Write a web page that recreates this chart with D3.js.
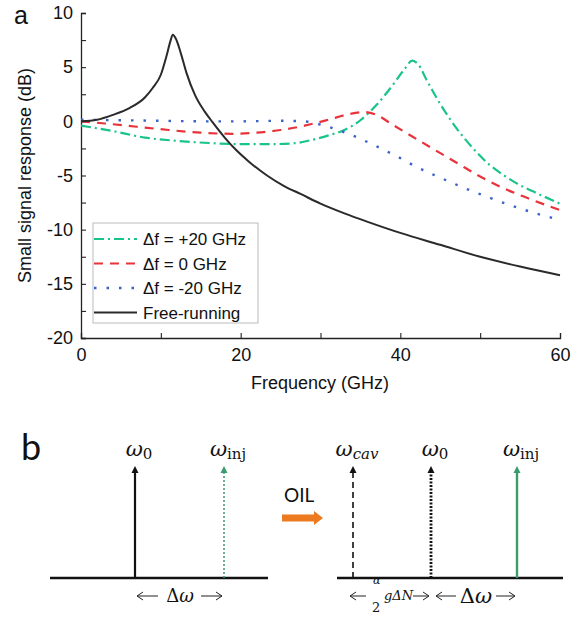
<!DOCTYPE html>
<html>
<head>
<meta charset="utf-8">
<script src="https://cdn.jsdelivr.net/npm/d3@7"></script>
<style>
  body { margin: 0; background: #fff; }
  svg { display: block; font-family: "Liberation Sans", Arial, sans-serif; }
</style>
</head>
<body>
<svg id="fig" width="585" height="617"></svg>
<script>
// frequency (GHz), response (dB)
const freeRunning = [[0,0],[2,0.15],[4,0.6],[6,1.2],[8,2.2],[9,3.1],[10,4.3],[10.7,6.0],[11.2,7.4],[11.5,8.0],
  [11.9,7.6],[12.5,6.3],[13.2,4.5],[14.3,2.4],[15.5,0.9],[16.5,-0.1],[18,-1.5],[19.5,-2.7],[21,-3.7],[23.3,-5.0],
  [25.5,-6.0],[27.5,-6.7],[30,-7.6],[33,-8.5],[36,-9.3],[40,-10.3],[45,-11.4],[50,-12.5],[55,-13.4],[60,-14.2]];
const plus20 = [[0,-0.4],[4,-0.9],[8,-1.5],[12,-1.8],[16,-2.0],[20,-2.1],[24,-2.1],[27,-2.0],[29,-1.7],[31,-1.3],
  [33,-0.8],[35,0.1],[37,1.5],[39,3.3],[40.5,4.8],[41.5,5.6],[42.3,5.2],[43.3,3.8],[45,1.6],[47,-0.6],[49,-2.4],
  [51,-3.9],[53,-5.0],[55,-5.9],[57,-6.6],[60,-7.6]];
const zero = [[0,0],[3,-0.2],[7,-0.5],[11,-0.8],[15,-1.05],[19,-1.15],[22,-1.05],[25,-0.8],[28,-0.4],[31,0.15],
  [33.5,0.65],[35.5,0.85],[37,0.6],[39,-0.3],[41.5,-1.4],[44,-2.5],[47,-3.8],[50,-5.1],[53,-6.2],[56,-7.1],[60,-8.2]];
const minus20 = [[0,0.15],[5,0.1],[10,0.05],[15,0],[20,0],[25,0.05],[28,0],[30,-0.3],[32,-0.75],[34,-1.3],[36,-1.95],
  [38,-2.65],[40,-3.4],[42,-4.2],[45,-5.2],[48,-6.15],[51,-7.0],[54,-7.8],[57,-8.5],[60,-9.1]];

const seriesNames = ["\u0394f = +20 GHz", "\u0394f = 0 GHz", "\u0394f = -20 GHz", "Free-running"];
const xTicks = [0, 20, 40, 60];
const yTicks = [10, 5, 0, -5, -10, -15, -20];

const svg = d3.select('#fig');

const x = d3.scaleLinear().domain([0, 60]).range([81, 560]);
const y = d3.scaleLinear().domain([-20, 10]).range([338, 13]);

const styles = [
  { data: plus20, color: '#19c38c', dash: '10,4,2,4', w: 2.2 },
  { data: zero, color: '#e8333a', dash: '9,7', w: 2.2 },
  { data: minus20, color: '#3b62c9', dash: '2.5,10', w: 2.4 },
  { data: freeRunning, color: '#2a2a2a', dash: null, w: 2 }
];

const line = d3.line()
  .x(d => x(d[0]))
  .y(d => y(d[1]))
  .curve(d3.curveMonotoneX);

// axes, ticks inward
const xAxis = svg.append('g')
  .attr('transform', `translate(0,${y(-20)})`)
  .call(d3.axisBottom(x).tickValues(d3.range(0, 61, 10)).tickSize(-5).tickFormat(d => xTicks.includes(d) ? d : ''));
const yAxis = svg.append('g')
  .attr('transform', `translate(${x(0)},0)`)
  .call(d3.axisLeft(y).tickValues(d3.range(-20, 10.1, 2.5)).tickSize(-5).tickFormat(d => yTicks.includes(d) ? d : ''));

[xAxis, yAxis].forEach(g => {
  g.select('.domain').attr('stroke', '#222').attr('stroke-width', 1.3);
  g.selectAll('.tick line').attr('stroke', '#222').attr('stroke-width', 1.1);
  g.selectAll('.tick text').attr('font-size', 18).attr('fill', '#111')
    .attr('font-family', '"Liberation Sans", Arial, sans-serif');
});
xAxis.selectAll('.tick text').attr('dy', '1.05em').attr('y', 4);
yAxis.selectAll('.tick text').attr('x', -8);

svg.append('text')
  .attr('x', 320).attr('y', 389)
  .attr('text-anchor', 'middle').attr('font-size', 18).attr('fill', '#111')
  .text('Frequency (GHz)');
svg.append('text')
  .attr('transform', `translate(31,${(y(10) + y(-20)) / 2}) rotate(-90)`)
  .attr('text-anchor', 'middle').attr('font-size', 18).attr('fill', '#111')
  .text('Small signal response (dB)');

styles.forEach(s => {
  svg.append('path')
    .datum(s.data)
    .attr('fill', 'none')
    .attr('stroke', s.color)
    .attr('stroke-width', s.w)
    .attr('stroke-dasharray', s.dash)
    .attr('d', line);
});

// legend
const leg = svg.append('g');
leg.append('rect')
  .attr('x', 93).attr('y', 223).attr('width', 165).attr('height', 100)
  .attr('fill', '#fff').attr('stroke', '#bbb').attr('stroke-width', 1);
styles.forEach((s, i) => {
  const yy = 239 + i * 24.5;
  leg.append('line')
    .attr('x1', 94).attr('x2', 137).attr('y1', yy).attr('y2', yy)
    .attr('stroke', s.color).attr('stroke-width', s.w).attr('stroke-dasharray', s.dash);
  leg.append('text')
    .attr('x', 143).attr('y', yy + 6)
    .attr('font-size', 17).attr('fill', '#111')
    .text(seriesNames[i]);
});

svg.append('text').attr('x', 14).attr('y', 23.5)
  .attr('font-family', '"Liberation Sans", Arial, sans-serif').attr('font-size', 25).attr('fill', '#111').text('a');

// ---- panel b ----
svg.append('text').attr('x', 21).attr('y', 460)
  .attr('font-family', 'Lato, "Open Sans", sans-serif').attr('font-size', 36).attr('fill', '#111').text('b');

const green = '#3a9b6c';
const baseY = 578, topY = 466;
const serif = '"DejaVu Serif", "Liberation Serif", serif';

function arrow(xp, color, dash, w) {
  svg.append('line')
    .attr('x1', xp).attr('x2', xp).attr('y1', baseY).attr('y2', topY + 6)
    .attr('stroke', color).attr('stroke-width', w).attr('stroke-dasharray', dash);
  svg.append('path')
    .attr('d', `M${xp - 3.5},${topY + 7} L${xp},${topY} L${xp + 3.5},${topY + 7} Z`)
    .attr('fill', color);
}

function omega(xp, sub, subItalic) {
  const t = svg.append('text')
    .attr('x', xp).attr('y', 456)
    .attr('text-anchor', 'middle')
    .attr('font-family', serif).attr('fill', '#111');
  t.append('tspan').attr('font-size', 21).attr('font-style', 'italic').text('\u03c9');
  t.append('tspan').attr('font-size', 15).attr('dy', 3)
    .attr('font-style', subItalic ? 'italic' : 'normal').text(sub);
}

const spikes = [
  { x: 135, color: '#111', dash: null, w: 2.2, sub: '0', it: false },
  { x: 224, color: green, dash: '2,2', w: 1.5, sub: 'inj', it: false },
  { x: 353, color: '#111', dash: '6,4', w: 1.6, sub: 'cav', it: true },
  { x: 431, color: '#111', dash: '2,1.5', w: 2.8, sub: '0', it: false },
  { x: 517, color: green, dash: null, w: 2.4, sub: 'inj', it: false }
];

[[50, 268], [337, 563]].forEach(([a, b]) => {
  svg.append('line').attr('x1', a).attr('x2', b).attr('y1', baseY).attr('y2', baseY)
    .attr('stroke', '#111').attr('stroke-width', 2.5);
});
spikes.forEach(s => {
  arrow(s.x, s.color, s.dash, s.w);
  omega(s.x + 4, s.sub, s.it);
});

// bracket arrows under the spikes
function hArrow(x1, x2, dir) {
  svg.append('line').attr('x1', x1).attr('x2', x2).attr('y1', 596).attr('y2', 596)
    .attr('stroke', '#222').attr('stroke-width', 1);
  const tip = dir < 0 ? x1 : x2;
  svg.append('path')
    .attr('d', `M${tip - dir * 6},${592} L${tip},${596} L${tip - dir * 6},${600}`)
    .attr('fill', 'none').attr('stroke', '#222').attr('stroke-width', 1);
}
hArrow(137, 158, -1);
hArrow(201, 222, 1);
svg.append('text').attr('x', 180).attr('y', 602).attr('text-anchor', 'middle')
  .attr('font-family', serif).attr('font-size', 18).attr('fill', '#111')
  .html('\u0394<tspan font-style="italic">\u03c9</tspan>');

hArrow(350, 366, -1);
svg.append('text').attr('x', 373).attr('y', 584).attr('font-family', serif).attr('font-style', 'italic')
  .attr('font-size', 11).attr('fill', '#111').text('\u03b1');
svg.append('text').attr('x', 372).attr('y', 612).attr('font-family', serif)
  .attr('font-size', 13).attr('fill', '#111').text('2');
svg.append('text').attr('x', 384).attr('y', 600).attr('font-family', serif).attr('font-style', 'italic')
  .attr('font-size', 13).attr('fill', '#111').text('g\u0394N');
hArrow(413, 429, 1);
hArrow(436, 456, -1);
svg.append('text').attr('x', 476).attr('y', 603).attr('text-anchor', 'middle')
  .attr('font-family', serif).attr('font-size', 21).attr('fill', '#111')
  .html('\u0394<tspan font-style="italic">\u03c9</tspan>');
hArrow(496, 515, 1);

// OIL arrow
svg.append('text').attr('x', 284).attr('y', 502)
  .attr('font-family', 'Lato, "Open Sans", sans-serif').attr('font-size', 19).attr('fill', '#111').text('OIL');
svg.append('path')
  .attr('d', 'M282,514.5 L314,514.5 L314,511 L323,518 L314,525 L314,521.5 L282,521.5 Z')
  .attr('fill', '#ee7a1f');
</script>
</body>
</html>
